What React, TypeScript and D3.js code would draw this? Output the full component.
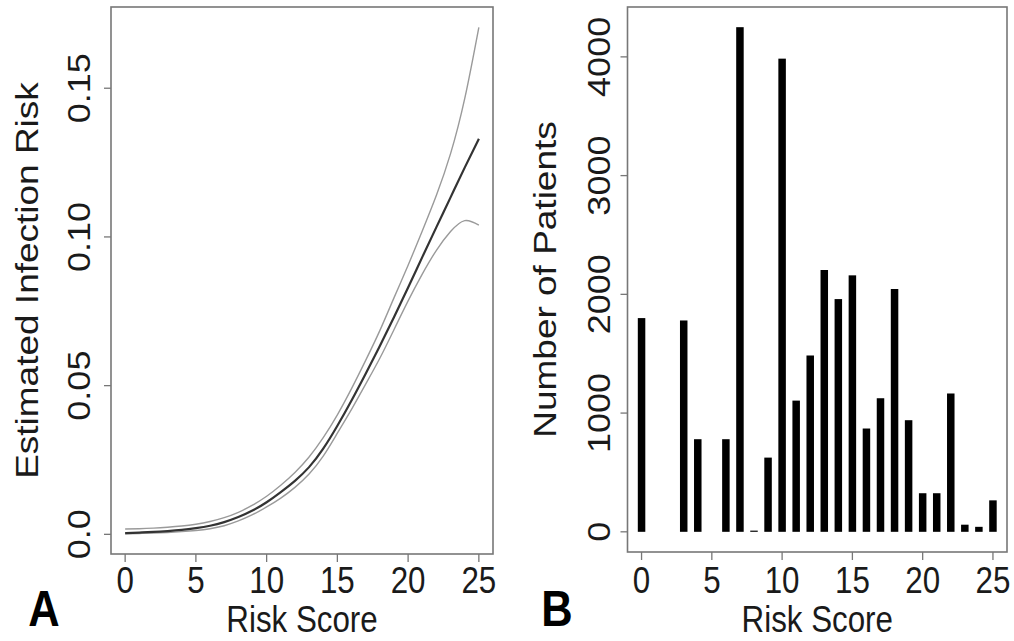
import React, { useEffect, useRef } from 'react'
import * as d3 from 'd3'

// ------------------------------------------------------------------ //
// data

// panel A: estimated risk by score, with upper / lower bands
const riskScores = d3.range(0, 26)
const riskMid = [0.0004, 0.0006, 0.0008, 0.0011, 0.0015, 0.0021, 0.0029, 0.0041, 0.0058, 0.0080,
    0.0108, 0.0142, 0.0180, 0.0226, 0.0288, 0.0365, 0.0450, 0.0540, 0.0633, 0.0730,
    0.0830, 0.0932, 0.1033, 0.1133, 0.1233, 0.1330]
const riskUpper = [0.0018, 0.0019, 0.0021, 0.0024, 0.0028, 0.0034, 0.0043, 0.0056, 0.0074, 0.0098,
    0.0128, 0.0165, 0.0208, 0.0260, 0.0325, 0.0402, 0.0490, 0.0585, 0.0685, 0.0795,
    0.0905, 0.1020, 0.1140, 0.1280, 0.1465, 0.1705]
const riskLower = [0.0002, 0.0003, 0.0004, 0.0006, 0.0009, 0.0013, 0.0019, 0.0029, 0.0045, 0.0066,
    0.0092, 0.0122, 0.0158, 0.0203, 0.0263, 0.0340, 0.0420, 0.0505, 0.0592, 0.0688,
    0.0785, 0.0875, 0.0955, 0.1018, 0.1055, 0.1040]

// panel B: patients per score
const patientCounts = [1800, 0, 0, 1780, 780, 0, 780, 4250, 10, 625,
    3985, 1105, 1485, 2205, 1960, 2160, 870, 1125, 2045, 940,
    325, 325, 1165, 60, 42, 265]

const xTicks = [0, 5, 10, 15, 20, 25]
const riskTicks = [0, 0.05, 0.10, 0.15]
const riskTickLabels = ["0.0", "0.05", "0.10", "0.15"]
const countTicks = [0, 1000, 2000, 3000, 4000]

// ------------------------------------------------------------------ //

const FONT = "'Liberation Sans', Arial, Helvetica, sans-serif"
const SQUEEZE = 0.87 // the source figure is a bit narrow horizontally
const TEXT = "#1a1a1a"
const FRAME = "#777"

// R style: pad the data range by 4% each side
const padded = (lo: number, hi: number) => {
    const d = (hi - lo) * 0.04
    return [lo - d, hi + d]
}

interface Box { left: number; right: number; top: number; bottom: number }

const drawFrame = (g: any, box: Box, x: any, y: any, yTicks: number[], yLabels: string[],
    yLabelX: number, yTitle: string, yTitleX: number, letter: string, letterX: number) => {
    g.append("rect")
        .attr("x", box.left).attr("y", box.top)
        .attr("width", box.right - box.left).attr("height", box.bottom - box.top)
        .attr("fill", "none").attr("stroke", FRAME).attr("stroke-width", 1.6)

    // x ticks + labels
    g.selectAll(".xtick").data(xTicks).enter().append("line")
        .attr("x1", (d: number) => x(d)).attr("x2", (d: number) => x(d))
        .attr("y1", box.bottom).attr("y2", box.bottom + 8)
        .attr("stroke", FRAME).attr("stroke-width", 1.3)
    g.selectAll(".xlab").data(xTicks).enter().append("text")
        .attr("transform", (d: number) => `translate(${x(d)},580) scale(${SQUEEZE},1)`)
        .attr("dy", "0.36em")
        .attr("text-anchor", "middle")
        .attr("font-size", 36).attr("font-family", FONT).attr("fill", TEXT)
        .text((d: number) => d)

    // y ticks + rotated labels
    g.selectAll(".ytick").data(yTicks).enter().append("line")
        .attr("x1", box.left - 7).attr("x2", box.left)
        .attr("y1", (d: number) => y(d)).attr("y2", (d: number) => y(d))
        .attr("stroke", FRAME).attr("stroke-width", 1.3)
    g.selectAll(".ylab").data(yTicks).enter().append("text")
        .attr("transform", (d: number) => `translate(${yLabelX},${y(d)}) scale(${SQUEEZE},1) rotate(-90)`)
        .attr("dy", "0.36em")
        .attr("text-anchor", "middle")
        .attr("font-size", 36).attr("font-family", FONT).attr("fill", TEXT)
        .text((d: number, i: number) => yLabels[i])

    const midX = (box.left + box.right) / 2
    const midY = (box.top + box.bottom) / 2
    g.append("text")
        .attr("transform", `translate(${midX},632) scale(${SQUEEZE},1)`)
        .attr("text-anchor", "middle")
        .attr("font-size", 36).attr("font-family", FONT).attr("fill", TEXT)
        .text("Risk Score")
    g.append("text")
        .attr("transform", `translate(${yTitleX},${midY}) scale(${SQUEEZE},1) rotate(-90)`)
        .attr("dy", "0.3em")
        .attr("text-anchor", "middle")
        .attr("font-size", 37).attr("font-family", FONT).attr("fill", TEXT)
        .text(yTitle)
    g.append("text")
        .attr("transform", `translate(${letterX},626) scale(${SQUEEZE},1)`)
        .attr("text-anchor", "middle")
        .attr("font-size", 50).attr("font-weight", "bold").attr("font-family", FONT).attr("fill", "#000")
        .text(letter)
}

const drawRiskPanel = (svg: any) => {
    const box = { left: 111, right: 493, top: 7, bottom: 554 }
    const x = d3.scaleLinear().domain(padded(0, 25)).range([box.left, box.right])
    const lo = d3.min(riskLower) as number
    const hi = d3.max(riskUpper) as number
    const y = d3.scaleLinear().domain(padded(lo, hi)).range([box.bottom, box.top])

    const g = svg.append("g").attr("id", "panel-a")
    drawFrame(g, box, x, y, riskTicks, riskTickLabels, 79, "Estimated Infection Risk", 28, "A", 44)

    const line = (vals: number[]) => d3.line<number>()
        .x((d, i) => x(riskScores[i]))
        .y(d => y(d))
        .curve(d3.curveNatural)(vals)

    g.append("path").attr("d", line(riskUpper))
        .attr("fill", "none").attr("stroke", "#9a9a9a").attr("stroke-width", 1.4)
    g.append("path").attr("d", line(riskLower))
        .attr("fill", "none").attr("stroke", "#9a9a9a").attr("stroke-width", 1.4)
    g.append("path").attr("d", line(riskMid))
        .attr("fill", "none").attr("stroke", "#333").attr("stroke-width", 2.2)
}

const drawCountPanel = (svg: any) => {
    const box = { left: 627.5, right: 1007, top: 7, bottom: 552 }
    const x = d3.scaleLinear().domain(padded(0, 25)).range([box.left, box.right])
    const y = d3.scaleLinear().domain(padded(0, d3.max(patientCounts) as number)).range([box.bottom, box.top])

    const g = svg.append("g").attr("id", "panel-b")
    drawFrame(g, box, x, y, countTicks, countTicks.map(String), 599, "Number of Patients", 546, "B", 557)

    const barW = 7.5
    g.selectAll(".bar").data(patientCounts.map((v, i) => ({ score: i, n: v })).filter(d => d.n > 0))
        .enter().append("rect")
        .attr("x", (d: any) => x(d.score) - barW / 2)
        .attr("width", barW)
        .attr("y", (d: any) => y(d.n))
        .attr("height", (d: any) => Math.max(1, y(0) - y(d.n)))
        .attr("fill", "#000")
}

export default function App() {
    const ref = useRef<SVGSVGElement>(null)

    useEffect(() => {
        const svg = d3.select(ref.current)
        svg.selectAll("*").remove()
        svg.append("rect").attr("width", 1014).attr("height", 641).attr("fill", "#fff")
        drawRiskPanel(svg)
        drawCountPanel(svg)
    }, [])

    return (
        <svg ref={ref} width={1014} height={641}
            style={{ position: "absolute", left: 0, top: 0 }} />
    )
}
